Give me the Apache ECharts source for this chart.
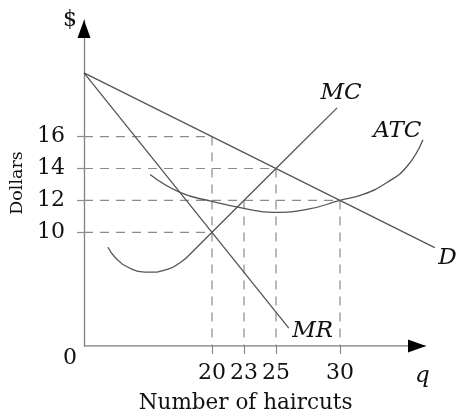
<!DOCTYPE html>
<html><head><meta charset="utf-8">
<script src="https://cdn.jsdelivr.net/npm/echarts@6/dist/echarts.min.js"></script>
<style>html,body{margin:0;padding:0;background:#fff}#c{width:457px;height:419px}</style>
</head><body><div id="c"></div>
<script>
// Axis frame (drawn, not to true scale: origin labelled 0)
const xMin = 10, xMax = 37.6, xAxisEnd = 36.72;
const yMin = 2.875, yMax = 23.31;
const xTickPos = [20, 22.5, 25, 30];
const xTickLabels = ['20', '23', '25', '30'];
const yTickVals = [10, 12, 14, 16];
const yTickLabels = ['10', '12', '14', '16'];

// Curves (q, dollars)
const demand = [[10, 20], [37.4, 9.04]];
const marginalRevenue = [[10, 20], [26.0, 4.0]];
const mcCurve = [[11.875, 9.06], [12.42, 8.44], [13.44, 7.81], [15, 7.5], [16.56, 7.69], [17.66, 8.19], [18.125, 8.5]];
const mcLine = [[18.125, 8.5], [20, 10], [25, 14], [29.77, 17.8]];
const atc = [[15.16, 13.62], [17.5, 12.5], [20, 11.94], [22.5, 11.5], [24.77, 11.25], [27.5, 11.45], [30, 12.0], [31.8, 12.375], [33.67, 13.125], [35.23, 14.125], [36.48, 15.81]];

// Dashed guides
const guide16 = [[xMin, 16], [20, 16], [20, yMin]];
const guide10 = [[xMin, 10], [20, 10]];
const guide14 = [[xMin, 14], [25, 14], [25, yMin]];
const guide12 = [[xMin, 12], [30, 12], [30, yMin]];
const guide23 = [[22.5, 12], [22.5, yMin]];

const serif = 'DejaVu Serif';
const lineCol = '#555';
const axisCol = '#808080';
const dashCol = '#8c8c8c';
const txt = '#111';

function curve(name, data, smooth, labelCfg) {
  const items = data.map((p, i) => {
    if (labelCfg && i === data.length - 1) {
      return {value: p.slice(), label: Object.assign({show: true, formatter: name, color: txt,
        fontFamily: serif, fontStyle: 'italic', fontSize: 23}, labelCfg)};
    }
    return {value: p.slice(), label: {show: false}};
  });
  return {type: 'line', name, data: items, smooth, showSymbol: true, symbol: 'circle', symbolSize: 1,
    itemStyle: {color: 'rgba(0,0,0,0)', borderWidth: 0}, clip: false, silent: true,
    lineStyle: {color: lineCol, width: 1.3}, z: 3};
}
function guide(data) {
  return {type: 'line', data, showSymbol: false, symbol: 'none', silent: true, clip: false,
    lineStyle: {color: dashCol, width: 1.2, type: [9, 7]}, z: 2};
}

const chart = echarts.init(document.getElementById('c'), null, {renderer: 'canvas'});
chart.setOption({
  animation: false,
  backgroundColor: '#fff',
  grid: {left: 84, right: 457 - (84 + (xMax - xMin) * 12.8), top: 20, bottom: 72, containLabel: false},
  xAxis: {
    type: 'value', min: xMin, max: xMax,
    name: 'Number of haircuts', nameLocation: 'middle', nameGap: 46,
    nameTextStyle: {fontFamily: serif, fontSize: 21.5, color: txt, padding: [0, 30, 0, 0]},
    axisLine: {show: false},
    axisTick: {show: true, customValues: xTickPos, length: 8, inside: false, lineStyle: {color: dashCol, width: 1.2}},
    axisLabel: {show: true, customValues: xTickPos, margin: 16, fontFamily: serif, fontSize: 22, color: txt,
      formatter: v => xTickLabels[xTickPos.indexOf(v)]},
    splitLine: {show: false}
  },
  yAxis: {
    type: 'value', min: yMin, max: yMax,
    name: 'Dollars', nameLocation: 'middle', nameGap: 57, nameRotate: 90,
    nameTextStyle: {fontFamily: serif, fontSize: 17.5, color: txt},
    axisLine: {show: true, onZero: false, lineStyle: {color: axisCol, width: 1.3}},
    axisTick: {show: true, customValues: yTickVals, length: 7, lineStyle: {color: dashCol, width: 1.2}},
    axisLabel: {show: true, customValues: yTickVals, margin: 19, fontFamily: serif, fontSize: 22, color: txt,
      formatter: v => yTickLabels[yTickVals.indexOf(v)]},
    splitLine: {show: false}
  },
  graphic: [
    {type: 'text', left: 63, top: 9, style: {text: '$', fontFamily: serif, fontSize: 22, fill: txt}},
    {type: 'text', left: 63, top: 347, style: {text: '0', fontFamily: serif, fontSize: 22, fill: txt}},
    {type: 'text', left: 415, top: 365, style: {text: 'q', fontFamily: serif, fontStyle: 'italic', fontSize: 23, fill: txt}}
  ],
  series: [
    {type: 'line', data: [[xMin, yMin], [xAxisEnd, yMin]], showSymbol: false, symbol: 'none', silent: true,
      lineStyle: {color: axisCol, width: 1.3}, z: 4},
    {type: 'scatter', data: [[xAxisEnd, yMin]], symbol: 'triangle', symbolSize: [13, 18], symbolRotate: -90,
      symbolOffset: [-9, 0], itemStyle: {color: '#000', opacity: 1}, silent: true, z: 5},
    {type: 'scatter', data: [[xMin, yMax]], symbol: 'triangle', symbolSize: [13, 18], symbolRotate: 0,
      symbolOffset: [0, 9], itemStyle: {color: '#000', opacity: 1}, silent: true, z: 5},
    guide(guide16), guide(guide10), guide(guide14), guide(guide12), guide(guide23),
    curve('D', demand, false, {position: 'right', distance: 3, offset: [0, 10]}),
    curve('MR', marginalRevenue, false, {position: 'right', distance: 3, offset: [0, 3]}),
    curve('MC', mcCurve, 0.5, null),
    curve('MC', mcLine, false, {position: 'top', distance: 3, offset: [4, 0]}),
    curve('ATC', atc, 0.5, {position: 'left', distance: 1, offset: [0, -9]})
  ]
});
</script></body></html>
